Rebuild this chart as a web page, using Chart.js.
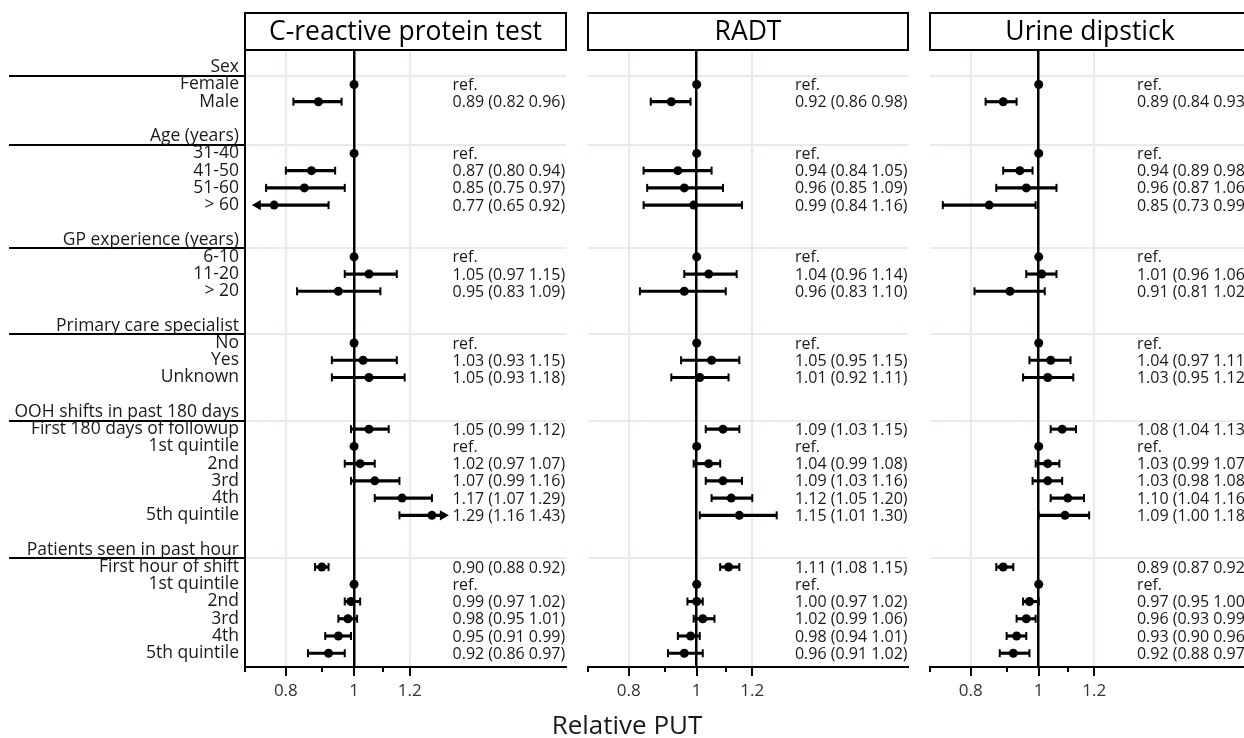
<!DOCTYPE html>
<html>
<head>
<meta charset="utf-8">
<script src="https://cdn.jsdelivr.net/npm/chart.js@4.4.1/dist/chart.umd.min.js"></script>
<style>
  html, body { margin: 0; padding: 0; background: #fff; width: 1244px; height: 738px; overflow: hidden; }
  canvas { position: absolute; top: 0; }
  #xTitle { position: absolute; left: 477px; width: 300px; top: 709px; text-align: center;
            font: 26px "Open Sans", sans-serif; color: #1a1a1a; line-height: 30px; }
</style>
</head>
<body>
<canvas id="crp" width="572" height="738" style="left:0px"></canvas>
<canvas id="radt" width="332" height="738" style="left:582px"></canvas>
<canvas id="urine" width="332" height="738" style="left:924px"></canvas>
<div id="xTitle">Relative PUT</div>
<script>
// Rader i figuren (tomme rader = mellomrom mellom grupper)
const ROWS = ['Sex', 'Female', 'Male', '',
  'Age (years)', '31-40', '41-50', '51-60', '> 60', '',
  'GP experience (years)', '6-10', '11-20', '> 20', '',
  'Primary care specialist', 'No', 'Yes', 'Unknown', '',
  'OOH shifts in past 180 days', 'First 180 days of followup', '1st quintile', '2nd', '3rd', '4th', '5th quintile', '',
  'Patients seen in past hour', 'First hour of shift', '1st quintile', '2nd', '3rd', '4th', '5th quintile'];
const HEADER_ROWS = [0, 4, 10, 15, 20, 28];
const ITEM_ROWS = [1, 2, 5, 6, 7, 8, 11, 12, 13, 16, 17, 18, 21, 22, 23, 24, 25, 26, 29, 30, 31, 32, 33, 34];

// Estimater med KI (null = referansekategori)
const crpEst = [null, 0.89, null, 0.87, 0.85, 0.77, null, 1.05, 0.95, null, 1.03, 1.05, 1.05, null, 1.02, 1.07, 1.17, 1.29, 0.90, null, 0.99, 0.98, 0.95, 0.92];
const crpLo  = [null, 0.82, null, 0.80, 0.75, 0.65, null, 0.97, 0.83, null, 0.93, 0.93, 0.99, null, 0.97, 0.99, 1.07, 1.16, 0.88, null, 0.97, 0.95, 0.91, 0.86];
const crpHi  = [null, 0.96, null, 0.94, 0.97, 0.92, null, 1.15, 1.09, null, 1.15, 1.18, 1.12, null, 1.07, 1.16, 1.29, 1.43, 0.92, null, 1.02, 1.01, 0.99, 0.97];

const radtEst = [null, 0.92, null, 0.94, 0.96, 0.99, null, 1.04, 0.96, null, 1.05, 1.01, 1.09, null, 1.04, 1.09, 1.12, 1.15, 1.11, null, 1.00, 1.02, 0.98, 0.96];
const radtLo  = [null, 0.86, null, 0.84, 0.85, 0.84, null, 0.96, 0.83, null, 0.95, 0.92, 1.03, null, 0.99, 1.03, 1.05, 1.01, 1.08, null, 0.97, 0.99, 0.94, 0.91];
const radtHi  = [null, 0.98, null, 1.05, 1.09, 1.16, null, 1.14, 1.10, null, 1.15, 1.11, 1.15, null, 1.08, 1.16, 1.20, 1.30, 1.15, null, 1.02, 1.06, 1.01, 1.02];

const urineEst = [null, 0.89, null, 0.94, 0.96, 0.85, null, 1.01, 0.91, null, 1.04, 1.03, 1.08, null, 1.03, 1.03, 1.10, 1.09, 0.89, null, 0.97, 0.96, 0.93, 0.92];
const urineLo  = [null, 0.84, null, 0.89, 0.87, 0.73, null, 0.96, 0.81, null, 0.97, 0.95, 1.04, null, 0.99, 0.98, 1.04, 1.00, 0.87, null, 0.95, 0.93, 0.90, 0.88];
const urineHi  = [null, 0.93, null, 0.98, 1.06, 0.99, null, 1.06, 1.02, null, 1.11, 1.12, 1.13, null, 1.07, 1.08, 1.16, 1.18, 0.92, null, 1.00, 0.99, 0.96, 0.97];

// x-akse (log)
const X_TICKS = [0.7, 0.8, 0.9, 1, 1.1, 1.2];
const X_LABELED = [0.8, 1, 1.2];
const X_MIN = 0.7, X_MAX = 2;
const CLIP_LO = 0.73, CLIP_HI = 1.337;   // KI kuttes her, pil tegnes
const TEXT_AT = 1.38;                    // hvor tallkolonnen starter

const GRID_COLOR = '#e3edf1';
const FONT = '"Open Sans", sans-serif';
Chart.defaults.font.family = FONT;

const forestDecor = {
  id: 'forestDecor',
  beforeDraw(chart, args, opts) {
    const { ctx, chartArea: a, scales: { y } } = chart;
    ctx.save();
    ctx.lineWidth = 2;
    HEADER_ROWS.forEach(r => {
      const py = Math.round(y.getPixelForValue(r + 0.5));
      ctx.strokeStyle = GRID_COLOR;
      ctx.beginPath(); ctx.moveTo(a.left, py); ctx.lineTo(a.right, py); ctx.stroke();
      if (opts.labels) {
        ctx.strokeStyle = '#000';
        ctx.beginPath(); ctx.moveTo(9, py); ctx.lineTo(a.left, py); ctx.stroke();
      }
    });
    ctx.restore();
  },
  afterDatasetsDraw(chart, args, opts) {
    const { ctx, scales: { x, y } } = chart;
    ctx.save();
    ctx.font = '16px ' + FONT;
    ctx.fillStyle = '#1a1a1a';
    ctx.textAlign = 'left';
    ctx.textBaseline = 'middle';
    const px = x.getPixelForValue(TEXT_AT);
    opts.notes.forEach(n => ctx.fillText(n.text, px, y.getPixelForValue(n.row) + 1));
    ctx.restore();
  },
  afterDraw(chart, args, opts) {
    const { ctx, chartArea: a, scales: { x } } = chart;
    ctx.save();
    // tittelboks
    ctx.fillStyle = '#fff';
    ctx.fillRect(a.left, 13, a.right - a.left, a.top - 13);
    ctx.strokeStyle = '#000';
    ctx.lineWidth = 2;
    ctx.strokeRect(a.left, 13, a.right - a.left, a.top - 13);
    ctx.fillStyle = '#000';
    ctx.font = '26.5px ' + FONT;
    ctx.textAlign = 'center';
    ctx.textBaseline = 'middle';
    ctx.fillText(opts.title, (a.left + a.right) / 2, (13 + a.top) / 2 + 1);
    // tick-streker under aksen
    ctx.beginPath();
    X_TICKS.forEach(v => {
      const px = Math.round(x.getPixelForValue(v));
      const len = X_LABELED.includes(v) ? 9 : 5;
      ctx.moveTo(px, a.bottom);
      ctx.lineTo(px, a.bottom + len);
    });
    ctx.stroke();
    ctx.restore();
  }
};

function buildPanel(canvasId, title, est, lo, hi, withLabels) {
  const dots = [], caps = [], arrows = [], bars = [], notes = [];
  ITEM_ROWS.forEach((row, i) => {
    if (est[i] === null) {
      dots.push({ x: 1, y: row });
      notes.push({ row, text: 'ref.' });
      return;
    }
    dots.push({ x: est[i], y: row });
    notes.push({ row, text: est[i].toFixed(2) + ' (' + lo[i].toFixed(2) + ' ' + hi[i].toFixed(2) + ')' });
    bars.push({ y: row, x: [Math.max(lo[i], CLIP_LO), Math.min(hi[i], CLIP_HI)] });
    if (lo[i] < CLIP_LO) arrows.push({ x: CLIP_LO, y: row, dir: -90 });
    else caps.push({ x: lo[i], y: row });
    if (hi[i] > CLIP_HI) arrows.push({ x: CLIP_HI, y: row, dir: 90 });
    else caps.push({ x: hi[i], y: row });
  });

  return new Chart(document.getElementById(canvasId), {
    type: 'scatter',
    data: {
      datasets: [
        { data: dots, pointStyle: 'circle', pointRadius: 4.5, backgroundColor: '#000', borderWidth: 0 },
        { data: arrows, pointStyle: 'triangle', pointRadius: 6, backgroundColor: '#000', borderWidth: 0,
          pointRotation: c => c.raw ? c.raw.dir : 0 },
        { data: caps, pointStyle: 'line', pointRadius: 4, pointRotation: 90, borderColor: '#000', borderWidth: 2 },
        { type: 'bar', indexAxis: 'y', data: bars, backgroundColor: '#000', borderWidth: 0, barThickness: 2.5 }
      ]
    },
    options: {
      responsive: false,
      animation: false,
      events: [],
      layout: { padding: { left: 5, right: 5, top: 50, bottom: 0 } },
      plugins: {
        legend: { display: false },
        tooltip: { enabled: false },
        forestDecor: { title, notes, labels: withLabels }
      },
      scales: {
        x: {
          type: 'logarithmic',
          min: X_MIN, max: X_MAX,
          offset: false,
          afterBuildTicks: s => { s.ticks = X_TICKS.map(v => ({ value: v })); },
          afterFit: s => { s.height = 71; },
          ticks: {
            autoSkip: false, maxRotation: 0, padding: 1,
            color: '#333', font: { size: 17 },
            callback: v => X_LABELED.includes(v) ? String(v) : ''
          },
          grid: {
            drawTicks: true,
            tickLength: 13,
            tickColor: 'rgba(0,0,0,0)',
            offset: false,
            color: c => c.tick && c.tick.value === 1 ? '#000' : (c.tick && X_LABELED.includes(c.tick.value) ? GRID_COLOR : 'rgba(0,0,0,0)'),
            lineWidth: c => c.tick && c.tick.value === 1 ? 2.5 : 2
          },
          border: { display: true, color: '#000', width: 2 }
        },
        y: {
          type: 'linear',
          reverse: true,
          min: -1, max: 34.8,
          offset: false,
          display: withLabels,
          afterBuildTicks: s => { s.ticks = ROWS.map((_, i) => ({ value: i })); },
          afterFit: s => { s.width = withLabels ? 240 : 0; },
          ticks: {
            autoSkip: false, padding: 6,
            color: '#1a1a1a', font: { size: 17.5 },
            callback: v => ROWS[v]
          },
          grid: { display: false, drawTicks: false, offset: false },
          border: { display: withLabels, color: '#000', width: 2 }
        }
      }
    },
    plugins: [forestDecor]
  });
}

buildPanel('crp', 'C-reactive protein test', crpEst, crpLo, crpHi, true);
buildPanel('radt', 'RADT', radtEst, radtLo, radtHi, false);
buildPanel('urine', 'Urine dipstick', urineEst, urineLo, urineHi, false);
</script>
</body>
</html>
